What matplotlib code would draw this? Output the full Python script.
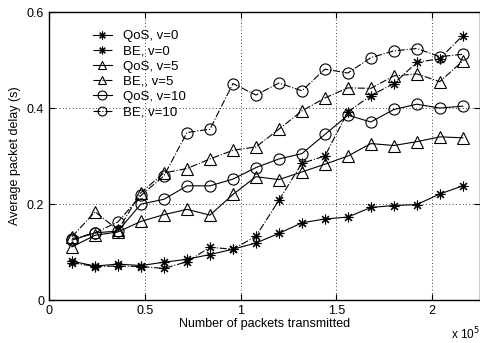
import matplotlib
matplotlib.use("Agg")
import matplotlib.pyplot as plt
from matplotlib.ticker import FuncFormatter

plt.rcParams['font.family'] = ['Liberation Sans', 'DejaVu Sans']

# packets transmitted
packets = [12000, 24000, 36000, 48000, 60000, 72000, 84000, 96000, 108000,
           120000, 132000, 144000, 156000, 168000, 180000, 192000, 204000, 216000]

# average packet delay (s)
qos_v0 = [0.081, 0.071, 0.075, 0.072, 0.079, 0.085, 0.095, 0.106, 0.119,
          0.139, 0.161, 0.169, 0.173, 0.193, 0.197, 0.199, 0.221, 0.238]
be_v0 = [0.078, 0.070, 0.071, 0.070, 0.066, 0.080, 0.110, 0.106, 0.133,
         0.208, 0.285, 0.300, 0.392, 0.426, 0.451, 0.495, 0.503, 0.551]
qos_v5 = [0.111, 0.135, 0.142, 0.164, 0.178, 0.189, 0.177, 0.220, 0.257,
          0.251, 0.267, 0.283, 0.300, 0.326, 0.322, 0.330, 0.340, 0.338]
be_v5 = [0.132, 0.184, 0.146, 0.224, 0.265, 0.274, 0.294, 0.312, 0.319,
         0.356, 0.394, 0.421, 0.442, 0.441, 0.467, 0.471, 0.455, 0.498]
qos_v10 = [0.125, 0.140, 0.144, 0.200, 0.210, 0.238, 0.238, 0.252, 0.276,
           0.294, 0.305, 0.345, 0.385, 0.371, 0.397, 0.408, 0.400, 0.404]
be_v10 = [0.128, 0.140, 0.163, 0.218, 0.259, 0.349, 0.356, 0.451, 0.427,
          0.452, 0.436, 0.481, 0.473, 0.505, 0.519, 0.524, 0.507, 0.512]

fig = plt.figure(figsize=(4.81, 3.43), dpi=100)
ax = fig.add_axes([0.102, 0.125, 0.896, 0.840])

star = (8, 2, 0)
kw = dict(color='black', lw=0.8, mfc='none', mec='black', mew=0.8)
ax.plot(packets, qos_v0, ls='-', marker=star, ms=7, label='QoS, v=0', **kw)
ax.plot(packets, be_v0, ls='-.', marker=star, ms=7, label='BE, v=0', **kw)
ax.plot(packets, qos_v5, ls='-', marker='^', ms=8, label='QoS, v=5', **kw)
ax.plot(packets, be_v5, ls='-.', marker='^', ms=8, label='BE,, v=5', **kw)
ax.plot(packets, qos_v10, ls='-', marker='o', ms=8, label='QoS, v=10', **kw)
ax.plot(packets, be_v10, ls='-.', marker='o', ms=8, label='BE, v=10', **kw)

ax.set_xlim(0, 225000)
ax.set_ylim(0, 0.6)
ax.set_xticks([0, 50000, 100000, 150000, 200000])
ax.set_yticks([0, 0.2, 0.4, 0.6])
ax.xaxis.set_major_formatter(FuncFormatter(lambda v, p: '%g' % (v / 1e5)))
ax.yaxis.set_major_formatter(FuncFormatter(lambda v, p: '%g' % v))
ax.tick_params(direction='in', top=True, right=True, labelsize=9, length=4, width=0.8)
ax.grid(True, ls=(0, (1, 3)), color='black', lw=0.6)
for s in ax.spines.values():
    s.set_linewidth(1.0)

ax.set_xlabel('Number of packets transmitted', fontsize=9, labelpad=1)
ax.set_ylabel('Average packet delay (s)', fontsize=9, labelpad=4)
fig.text(0.997, 0.003, r'x 10$^5$', fontsize=8.5, ha='right', va='bottom')

ax.legend(loc='upper left', bbox_to_anchor=(0.09, 0.955), frameon=False,
          fontsize=9.5, handlelength=1.4, handletextpad=0.9, labelspacing=0.22,
          borderaxespad=0, markerscale=0.8)

fig.savefig('out.png', dpi=100)
